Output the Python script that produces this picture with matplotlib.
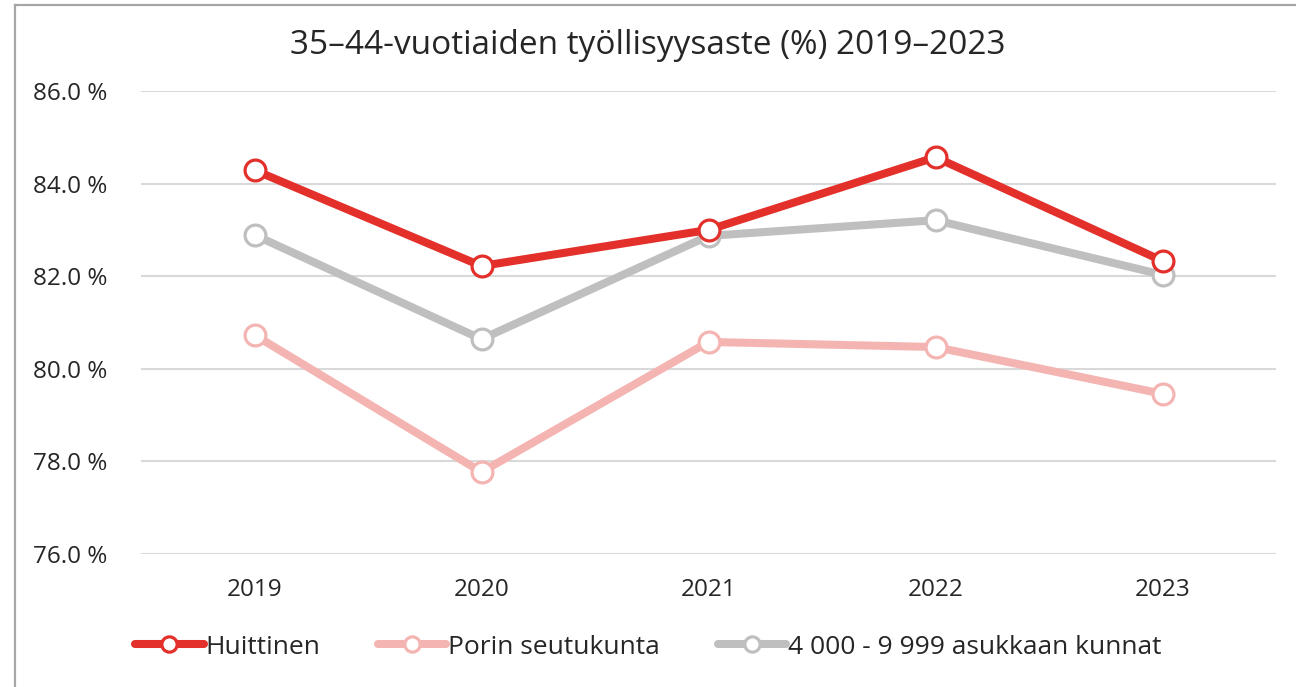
import matplotlib
matplotlib.use("Agg")
import matplotlib.pyplot as plt
from matplotlib.lines import Line2D

years = ["2019", "2020", "2021", "2022", "2023"]
huittinen = [84.29, 82.22, 83.00, 84.57, 82.33]
pori = [80.73, 77.77, 80.58, 80.47, 79.46]
kunnat = [82.89, 80.64, 82.87, 83.21, 82.03]
series_names = ["Huittinen", "Porin seutukunta", "4 000 - 9 999 asukkaan kunnat"]
colors = ["#E3302B", "#F4B5B2", "#BFBFBF"]
title = "35–44-vuotiaiden työllisyysaste (%) 2019–2023"
yticks = [76, 78, 80, 82, 84, 86]

plt.rcParams['font.family'] = ['Open Sans', 'DejaVu Sans']

fig = plt.figure(figsize=(12.96, 6.87), dpi=100)
ax = fig.add_axes([141/1296, 1-554/687, 1135/1296, 463/687])

x = list(range(len(years)))
order = [(pori, 1), (kunnat, 2), (huittinen, 0)]
handles = {}
for data, i in order:
    ln, = ax.plot(x, data, color=colors[i], lw=5.8, marker='o', markersize=15,
                  markerfacecolor='white', markeredgecolor=colors[i], markeredgewidth=2.3,
                  solid_capstyle='round', zorder=3 + (i == 0), clip_on=False)
    handles[i] = ln

ax.set_xlim(-0.5, len(years) - 0.5)
ax.set_ylim(76, 86)
ax.set_yticks(yticks)
ax.set_yticklabels([f"{v:.1f} %" for v in yticks])
ax.set_xticks(x)
ax.set_xticklabels(years)
ax.grid(axis='y', color='#D9D9D9', lw=1.5)
ax.set_axisbelow(True)
for s in ax.spines.values():
    s.set_visible(False)
ax.tick_params(axis='both', length=0, labelsize=17.5, colors='#262626')
ax.tick_params(axis='x', pad=17)
ax.tick_params(axis='y', pad=24)

fig.text(0.5, 1 - 46/687, title, ha='center', va='center', fontsize=24, color='#262626')

leg = fig.legend([handles[0], handles[1], handles[2]], series_names,
                 loc='center', bbox_to_anchor=(0.5, 1 - 647/687), ncol=3, frameon=False,
                 fontsize=19, handlelength=2.6, handletextpad=0.05, columnspacing=2.2,
                 labelcolor='#262626')
for h in leg.legend_handles:
    h.set_markersize(11)

fig.add_artist(Line2D([15/1296, 15/1296], [0, 1 - 5/687], transform=fig.transFigure,
                      color='#A6A6A6', lw=1.6))
fig.add_artist(Line2D([15/1296, 1], [1 - 5/687, 1 - 5/687], transform=fig.transFigure,
                      color='#A6A6A6', lw=1.6))

fig.savefig("out.png", dpi=100, facecolor='white')
